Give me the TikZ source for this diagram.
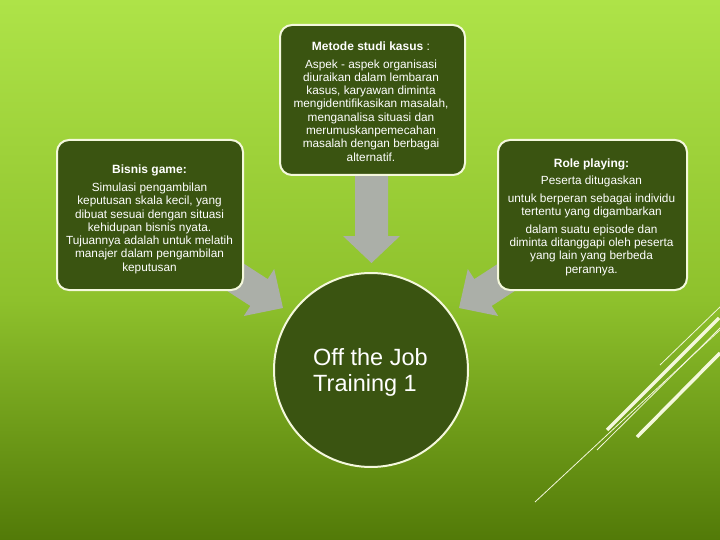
\documentclass[tikz,border=0pt]{standalone}
\usepackage{fontspec}
\setmainfont{Liberation Sans}
\definecolor{boxfill}{RGB}{58,84,17}
\definecolor{rim}{RGB}{244,248,220}
\definecolor{arrowgray}{RGB}{171,175,168}
\definecolor{bgtop}{RGB}{174,227,72}
\definecolor{bgmid}{RGB}{142,193,44}
\definecolor{bgbot}{RGB}{82,122,8}
\begin{document}
\begin{tikzpicture}[x=1pt,y=-1pt,
  box/.style={draw=rim, line width=2pt, fill=boxfill, rounded corners=12pt, inner sep=0pt},
  titletext/.style={text=white, font=\fontsize{12}{13.3}\selectfont, inner sep=0pt, anchor=north},
  bodytext/.style={text=white, font=\fontsize{11.8}{13.3}\selectfont, align=center, inner sep=0pt, anchor=north},
  blockarrow/.style={fill=arrowgray, draw=none},
  deco/.style={draw=rim, line cap=butt}]
\useasboundingbox (0,0) rectangle (720,540);
% background
\shade[top color=bgtop, bottom color=bgmid] (0,0) rectangle (720,300);
\shade[top color=bgmid, bottom color=bgbot] (0,300) rectangle (720,540);
% decorative lines
\draw[deco, line width=0.8pt] (660,365) -- (721,306);
\draw[deco, line width=3.5pt] (607,430) -- (719,318);
\draw[deco, line width=0.8pt] (535,502) -- (721,329);
\draw[deco, line width=0.8pt] (597,450) -- (721,327);
\draw[deco, line width=3.5pt] (637,437) -- (720,353);
% block arrows
\fill[blockarrow] (355,170) -- (388,170) -- (388,236) -- (400,236) -- (371.5,263) -- (343,236) -- (355,236) -- cycle;
\fill[blockarrow] (217.3,246.5) -- (267.7,279.1) -- (274.2,269) -- (283,308) -- (243.8,316) -- (250.3,305.9) -- (199.9,273.3) -- cycle;
\fill[blockarrow] (524.7,246.5) -- (474.3,279.1) -- (467.8,269) -- (459,308) -- (498.2,316) -- (491.7,305.9) -- (542.1,273.3) -- cycle;
% boxes
\node[box, minimum width=185pt, minimum height=150pt] (metode) at (372.5,100) {};
\node[box, minimum width=186pt, minimum height=150pt] (bisnis) at (150,215) {};
\node[box, minimum width=189pt, minimum height=150pt] (role) at (592.5,215) {};
\node[draw=rim, line width=2pt, fill=boxfill, circle, minimum size=194pt, inner sep=0pt] (center) at (371,370) {};
% texts
\node[titletext] (metodeT) at (371,41.5) {\textbf{Metode studi kasus} :};
\node[bodytext] (metodeB) at (371,59.3) {Aspek - aspek organisasi\\diuraikan dalam lembaran\\kasus, karyawan diminta\\mengidentifikasikan masalah,\\menganalisa situasi dan\\merumuskanpemecahan\\masalah dengan berbagai\\alternatif.};
\node[titletext] (bisnisT) at (149.5,164.3) {\textbf{Bisnis game:}};
\node[bodytext] (bisnisB) at (149.5,182.7) {Simulasi pengambilan\\keputusan skala kecil, yang\\dibuat sesuai dengan situasi\\kehidupan bisnis nyata.\\Tujuannya adalah untuk melatih\\manajer dalam pengambilan\\keputusan};
\node[titletext] (roleT) at (591.5,159) {\textbf{Role playing:}};
\node[bodytext] (roleB) at (591.5,176) {Peserta ditugaskan\\[4.5pt]untuk berperan sebagai individu\\tertentu yang digambarkan\\[4pt]dalam suatu episode dan\\diminta ditanggapi oleh peserta\\yang lain yang berbeda\\perannya.};
\node[text=white, font=\fontsize{23.5}{26}\selectfont, align=left, inner sep=0pt, anchor=north west] (centerT) at (313,348) {Off the Job\\Training 1};
\end{tikzpicture}
\end{document}
